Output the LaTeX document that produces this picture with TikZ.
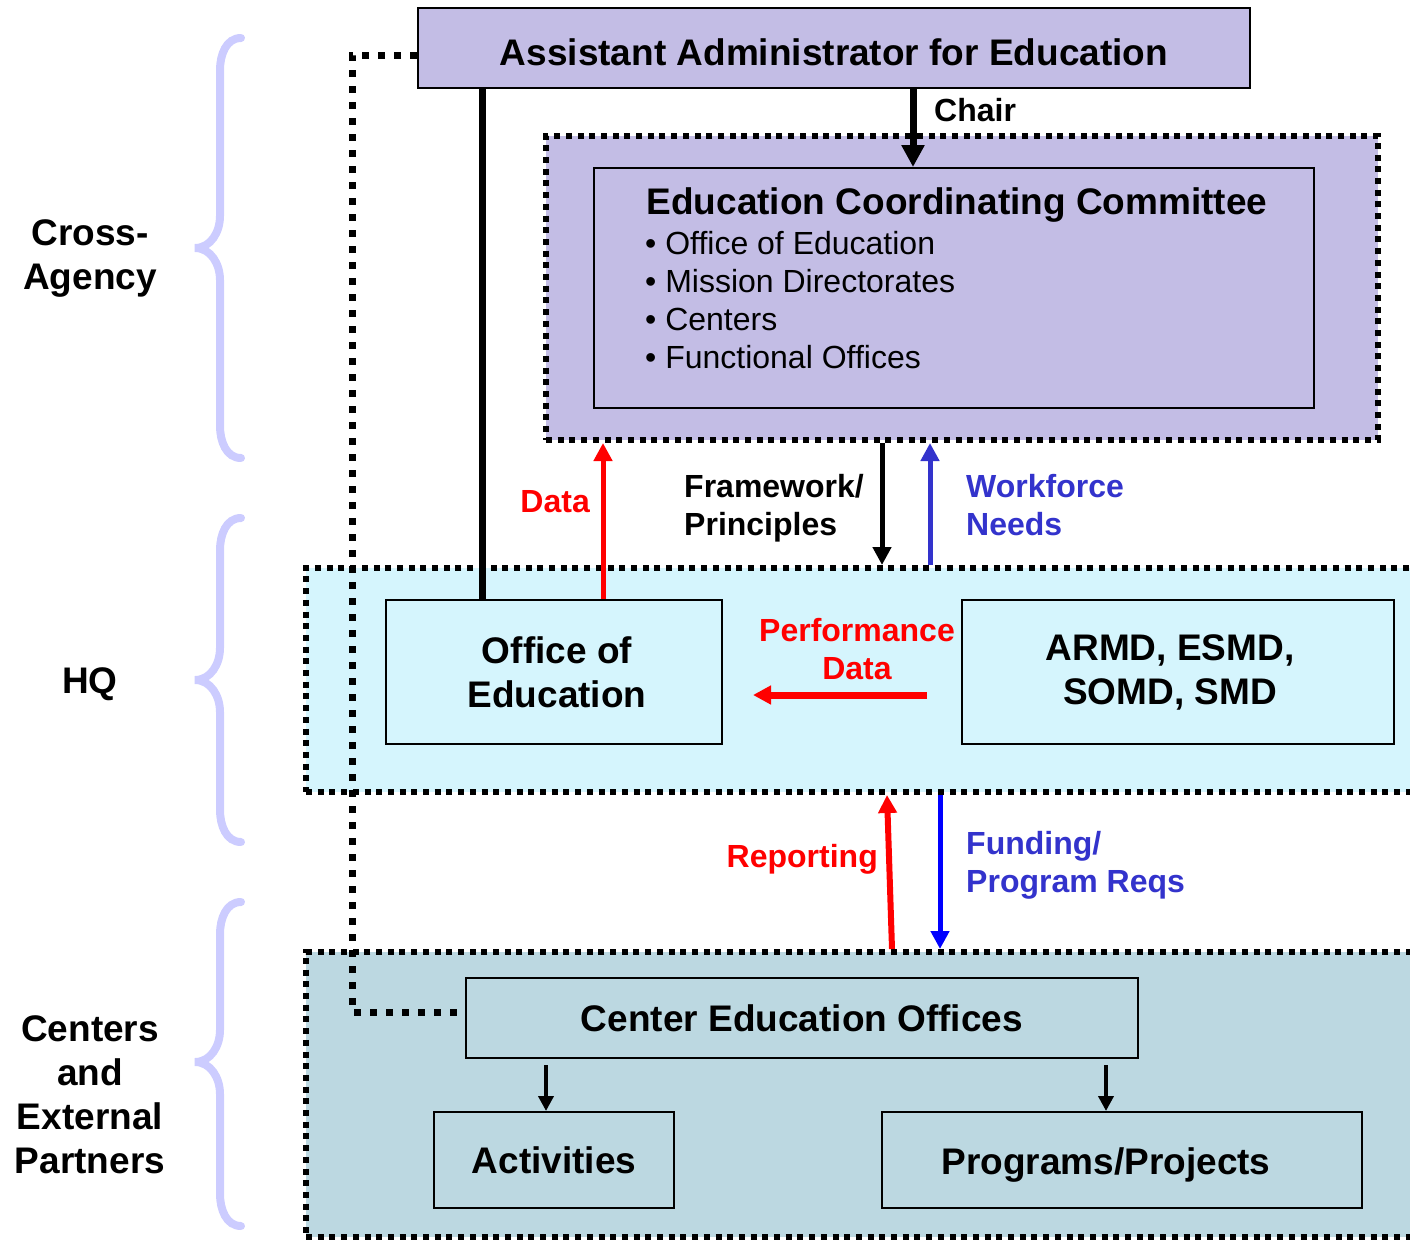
\documentclass[tikz,border=0pt]{standalone}
\usepackage{fontspec}
\setmainfont{Liberation Sans}
\usetikzlibrary{arrows.meta}
\definecolor{adminpurple}{RGB}{195,189,229}
\definecolor{hqcyan}{RGB}{213,245,253}
\definecolor{centerblue}{RGB}{188,216,225}
\definecolor{bracelilac}{RGB}{204,204,255}
\definecolor{needblue}{RGB}{51,51,204}
\newcommand{\boxfont}{\fontsize{37}{44}\selectfont\bfseries}
\newcommand{\lblfont}{\fontsize{32}{38}\selectfont\bfseries}
\newcommand{\listfont}{\fontsize{32}{38}\selectfont}

\begin{document}
\begin{tikzpicture}[x=1pt, y=-1pt,
  box/.style={draw, line width=2pt, inner sep=0pt, font=\boxfont, align=center},
  boxtext/.style={inner sep=0pt, font=\boxfont, align=center},
  region/.style={draw, line width=6pt, dash pattern=on 6pt off 5.7pt, inner sep=0pt},
  side/.style={inner sep=0pt, font=\boxfont, align=center},
  lbl/.style={inner sep=0pt, font=\lblfont},
  link/.style={line width=5pt, -{Triangle[length=18pt,width=18pt]}}]
   \useasboundingbox (0,0) rectangle (1410,1242);
   \clip (0,0) rectangle (1410,1242);
   % braces and levels
   \foreach \top/\tip/\bot in {38/248/458, 518/680/842, 902/1062/1226}
      \draw [bracelilac, line width=8pt, line cap=round] (241,\top) to[out=180, in=90] (220,\top+32) -- (220,\tip-32) to[out=-90, in=0] (195,\tip) to[out=0, in=90] (220,\tip+32) -- (220,\bot-32) to[out=-90, in=180] (241,\bot);
   \node [side] (crossag) at (90,258) {Cross-\\Agency};
   \node [side] (hqlvl) at (90,684) {HQ};
   \node [side] (ctrlvl) at (90,1095) {Centers\\and\\External\\Partners};
   % regions
   \node [region, fill=adminpurple, minimum width=832, minimum height=304] (eccout) at (962,288) {};
   \node [region, fill=hqcyan, minimum width=1124, minimum height=224] (hq) at (868,680) {};
   \node [region, fill=centerblue, minimum width=1124, minimum height=285] (ctr) at (868,1094.5) {};
   % boxes
   \node [box, fill=adminpurple, minimum width=832, minimum height=80, text height=36] (aa) at (834,48) {Assistant Administrator for Education};
   \node [box, minimum width=720, minimum height=240] (eccin) at (954,288) {};
   \node [boxtext] (ecctitle) at (957,205) {Education Coordinating Committee};
   \node [inner sep=0pt, font=\listfont, align=left, anchor=west] (eccitems) at (645,300) {• Office of Education\\• Mission Directorates\\• Centers\\• Functional Offices};
   \node [box, fill=hqcyan, minimum width=336, minimum height=144] (oe) at (554,672) {};
   \node [boxtext] (oetext) at (557,672) {Office of\\Education};
   \node [box, fill=hqcyan, minimum width=432, minimum height=144] (armd) at (1178,672) {};
   \node [boxtext] (armdtext) at (1170,672) {ARMD, ESMD,\\SOMD, SMD};
   \node [box, fill=centerblue, minimum width=672, minimum height=80] (ceo) at (802,1018) {Center Education Offices};
   \node [box, fill=centerblue, minimum width=240, minimum height=96] (act) at (554,1160) {Activities};
   \node [box, fill=centerblue, minimum width=480, minimum height=96] (prog) at (1122,1160) {};
   \node [boxtext, text depth=0pt] (progtext) at (1106,1161) {Programs/Projects};
   % x positions of the links
   \coordinate (xadm) at (482,0);
   \coordinate (xchair) at (913,0);
   \coordinate (xdata) at (603,0);
   \coordinate (xframe) at (882,0);
   \coordinate (xwork) at (930,0);
   \coordinate (xrepa) at (892,0);
   \coordinate (xrepb) at (887,0);
   \coordinate (xfund) at (940,0);
   \coordinate (xact) at (546,0);
   \coordinate (xprog) at (1106,0);
   % links
   \draw [line width=7pt, dash pattern=on 7pt off 9pt] ([shift={(0,7)}]aa.west) -- ++(-65,0) |- ([shift={(0,-6)}]ceo.west);
   \draw [line width=7pt] (aa.south -| xadm) -- (oe.north -| xadm);
   \draw [line width=7pt, -{Triangle[length=22pt,width=22pt]}] (aa.south -| xchair) -- (eccin.north -| xchair);
   \node [lbl, anchor=west] (chair) at (934,110) {Chair};
   \draw [link, red] (oe.north -| xdata) -- (eccout.south -| xdata);
   \node [lbl, red, anchor=east] (datalbl) at (590,502) {Data};
   \draw [link] (eccout.south -| xframe) -- (hq.north -| xframe);
   \node [lbl, anchor=west, align=left] (framelbl) at (684,508) {Framework/\\Principles};
   \draw [link, needblue] (hq.north -| xwork) -- (eccout.south -| xwork);
   \node [lbl, needblue, anchor=west, align=left] (worklbl) at (966,505) {Workforce\\Needs};
   \draw [link, red, line width=7pt] ([shift={(-34,23)}]armd.west) -- ([shift={(30,23)}]oe.east);
   \node [lbl, red, align=center] (perflbl) at (857,649) {Performance\\Data};
   \draw [link, red, line width=6pt] (ctr.north -| xrepa) -- (hq.south -| xrepb);
   \node [lbl, red, anchor=east] (replbl) at (878,859) {Reporting};
   \draw [link, blue] (hq.south -| xfund) -- (ctr.north -| xfund);
   \node [lbl, needblue, anchor=west, align=left] (fundlbl) at (966,865) {Funding/\\Program Reqs};
   \draw [line width=4pt, -{Triangle[length=15pt,width=15pt]}] ([shift={(0,6)}]ceo.south -| xact) -- (act.north -| xact);
   \draw [line width=4pt, -{Triangle[length=15pt,width=15pt]}] ([shift={(0,6)}]ceo.south -| xprog) -- (prog.north -| xprog);
\end{tikzpicture}
\end{document}
